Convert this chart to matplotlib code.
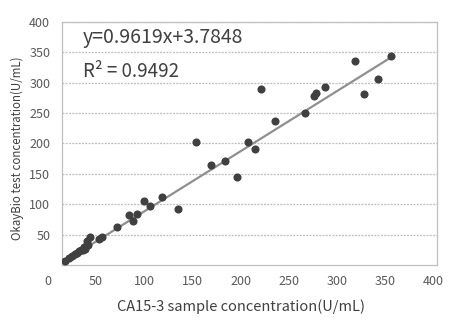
import numpy as np
import matplotlib
matplotlib.use("Agg")
import matplotlib.pyplot as plt

plt.rcParams['font.family'] = ['Noto Sans CJK SC', 'DejaVu Sans']

# CA15-3 sample concentration (U/mL) vs. OkayBio test concentration (U/mL)
sample_conc = [3.2, 7.5, 10.7, 13.9, 16.0, 18.1, 20.3, 22.4, 24.5, 23.5, 25.6, 27.7,
               26.7, 29.9, 39.6, 42.8, 58.7, 71.5, 76.1, 79.6, 87.1, 93.9, 106.5,
               124.1, 142.9, 158.4, 173.9, 186.6, 198.9, 205.5, 212.3, 226.9, 259.6,
               268.4, 271.3, 280.2, 312.5, 321.8, 337.4, 351.3]
test_conc = [6.6, 11.5, 14.8, 18.0, 19.7, 23.0, 24.6, 24.6, 26.3, 29.6, 31.2, 32.9,
             39.4, 46.0, 43.0, 46.0, 63.0, 82.7, 72.3, 83.5, 104.8, 97.2, 112.0,
             91.5, 202.6, 165.0, 171.0, 144.8, 202.9, 190.1, 288.7, 236.1, 250.3,
             278.2, 283.1, 292.5, 335.7, 281.0, 305.6, 343.4]

slope = 0.9619
intercept = 3.7848
r_squared = 0.9492

x_ticks = [0, 50, 100, 150, 200, 250, 300, 350, 400]
y_ticks = [50, 100, 150, 200, 250, 300, 350, 400]

grid_color = '#bfbfbf'
text_color = '#595959'

W, H = 458, 324
fig = plt.figure(figsize=(W / 100, H / 100), dpi=100)

left, right, top, bottom = 62, 437, 21.7, 265
ax = fig.add_axes([left / W, 1 - bottom / H, (right - left) / W, (bottom - top) / H])
ax.set_xlim(0, 400)
ax.set_ylim(0, 400)

# dashed frame and horizontal grid
for s in ax.spines.values():
    s.set_linestyle((0, (1.6, 1.0)))
    s.set_color(grid_color)
    s.set_linewidth(0.9)
ax.set_yticks(y_ticks)
ax.yaxis.grid(True, linestyle=(0, (1.6, 1.0)), color=grid_color, linewidth=0.9)
ax.set_axisbelow(True)
ax.tick_params(axis='y', length=0, pad=8.5, labelsize=9, labelcolor=text_color)
ax.set_xticks([])

# data points
ax.scatter(sample_conc, test_conc, s=34, color='#404040', zorder=3, linewidths=0)

# linear trendline over the data range
xs = np.array([min(sample_conc), max(sample_conc)])
ax.plot(xs, slope * xs + intercept, color='#8f8f8f', linewidth=1.6, zorder=2)

ax.text(22, 374, f"y={slope}x+{intercept}", fontsize=14, color='#404040',
        va='center', ha='left')
ax.text(22, 318, f"R\u00b2 = {r_squared}", fontsize=13.5, color='#404040',
        va='center', ha='left')

# x tick labels row
lab_left, lab_right = 48, 433
lax = fig.add_axes([lab_left / W, 1 - bottom / H, (lab_right - lab_left) / W, 0.001])
lax.set_xlim(0, 400)
lax.set_xticks(x_ticks)
lax.set_yticks([])
for s in lax.spines.values():
    s.set_visible(False)
lax.patch.set_alpha(0)
lax.tick_params(axis='x', length=0, pad=7, labelsize=9, labelcolor=text_color)

fig.text(241 / W, 1 - 307 / H, "CA15-3 sample concentration(U/mL)", fontsize=10.5,
         color='#404040', ha='center', va='center')
fig.text(17 / W, 1 - 148 / H, "OkayBio test concentration(U/mL)", fontsize=8.3,
         color='#404040', ha='center', va='center', rotation=90)

fig.savefig("out.png", dpi=100)
